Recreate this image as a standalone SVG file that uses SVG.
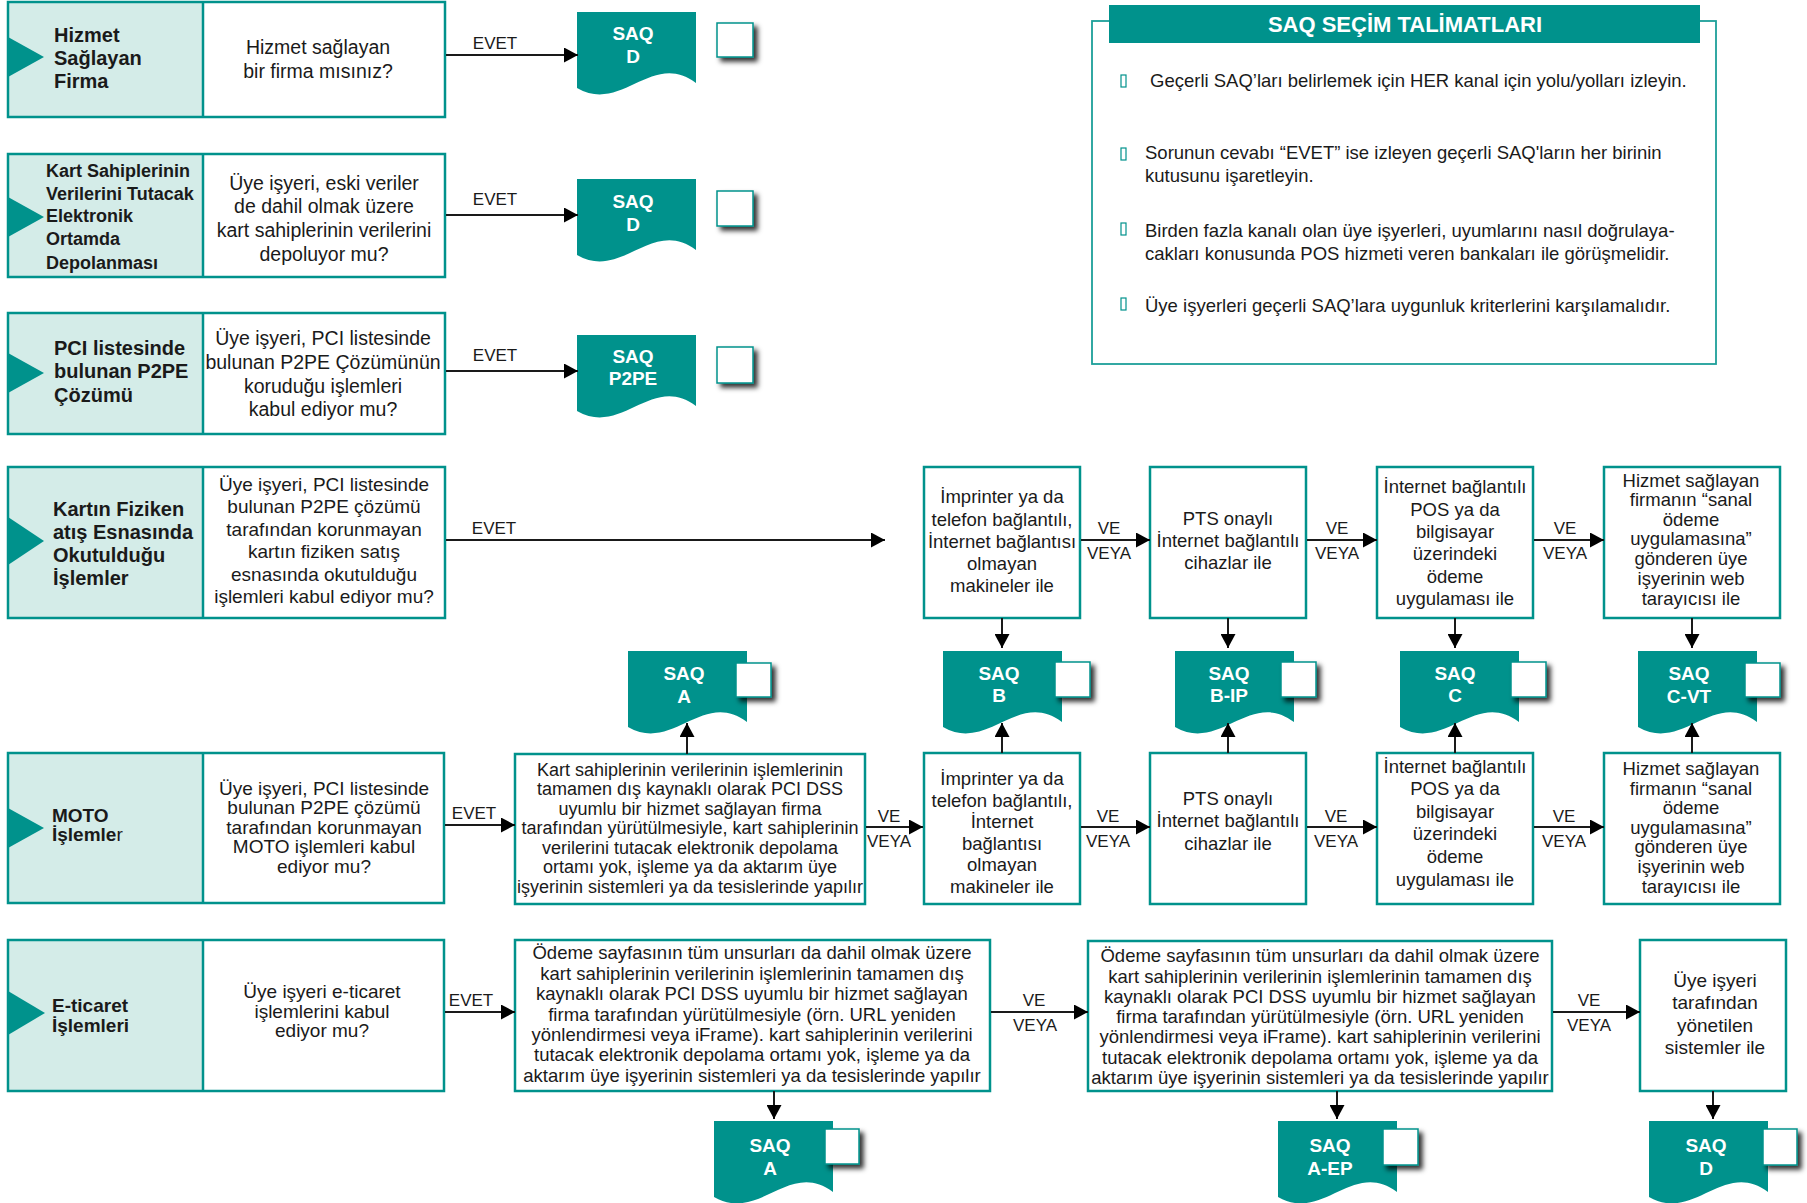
<svg xmlns="http://www.w3.org/2000/svg" width="1807" height="1203" viewBox="0 0 1807 1203">
<defs>
<style>
 text { font-family: "Liberation Sans", Arial, sans-serif; fill:#1a1a1a; }
 .lab { font-weight:bold; font-size:20px; }
 .q { font-size:19.5px; text-anchor:middle; }
 .q19 { font-size:19px; text-anchor:middle; }
 .b { font-size:18.5px; text-anchor:middle; }
 .k { font-size:18px; text-anchor:middle; }
 .lbl { font-size:17px; text-anchor:middle; }
 .saq { font-weight:bold; font-size:19px; fill:#ffffff; text-anchor:middle; }
 .left { fill:#d4ece8; }
 .frame { fill:none; stroke:#00928c; stroke-width:2.5; }
 .box { fill:#ffffff; stroke:#00928c; stroke-width:2.5; }
 .doc { fill:#00928c; }
 .chk { fill:#ffffff; stroke:#00928c; stroke-width:1.5; filter:url(#sh); }
 .tri { fill:#00928c; }
 .con line { stroke:#1a1a1a; stroke-width:2; marker-end:url(#ah); }
 .ins { font-size:18.5px; }
 .bul { fill:none; stroke:#00928c; stroke-width:1.2; }
</style>
<marker id="ah" markerUnits="userSpaceOnUse" markerWidth="14" markerHeight="15" refX="14" refY="7.5" orient="auto"><path d="M0,0 L14,7.5 L0,15 Z" fill="#000"/></marker>
<filter id="sh" x="-40%" y="-40%" width="180%" height="180%"><feDropShadow dx="4" dy="4" stdDeviation="2.5" flood-color="#000" flood-opacity="0.8"/></filter>
<path id="docp" d="M0,0 H119 V71 C75,38 45,102 0,76 Z"/>
</defs>

<!-- Row 1 -->
<g id="row1-hizmet">
 <rect class="left" x="8" y="2" width="195" height="115"/>
 <rect x="203" y="2" width="242" height="115" fill="#fff"/>
 <rect class="frame" x="8" y="2" width="437" height="115"/>
 <line x1="203" y1="2" x2="203" y2="117" stroke="#00928c" stroke-width="2.5"/>
 <polygon class="tri" points="8,37 44,57 8,77"/>
 <text class="lab" x="54" y="42">Hizmet</text>
 <text class="lab" x="54" y="65">Sağlayan</text>
 <text class="lab" x="54" y="88">Firma</text>
 <text class="q" x="318" y="54">Hizmet sağlayan</text>
 <text class="q" x="318" y="78">bir firma mısınız?</text>
</g>
<g id="saq-d-1">
 <use href="#docp" class="doc" x="577" y="12"/>
 <text class="saq" x="633" y="40">SAQ</text>
 <text class="saq" x="633" y="63">D</text>
 <rect class="chk" x="717" y="23" width="36" height="34"/>
</g>

<!-- Row 2 -->
<g id="row2-depolama">
 <rect class="left" x="8" y="154" width="195" height="123"/>
 <rect x="203" y="154" width="242" height="123" fill="#fff"/>
 <rect class="frame" x="8" y="154" width="437" height="123"/>
 <line x1="203" y1="154" x2="203" y2="277" stroke="#00928c" stroke-width="2.5"/>
 <polygon class="tri" points="8,197 44,217 8,237"/>
 <text class="lab" style="font-size:18px" x="46" y="177">Kart Sahiplerinin</text>
 <text class="lab" style="font-size:18px" x="46" y="200">Verilerini Tutacak</text>
 <text class="lab" style="font-size:18px" x="46" y="222">Elektronik</text>
 <text class="lab" style="font-size:18px" x="46" y="245">Ortamda</text>
 <text class="lab" style="font-size:18px" x="46" y="269">Depolanması</text>
 <text class="q" x="324" y="190">Üye işyeri, eski veriler</text>
 <text class="q" x="324" y="213">de dahil olmak üzere</text>
 <text class="q" x="324" y="237">kart sahiplerinin verilerini</text>
 <text class="q" x="324" y="261">depoluyor mu?</text>
</g>
<g id="saq-d-2">
 <use href="#docp" class="doc" x="577" y="179"/>
 <text class="saq" x="633" y="208">SAQ</text>
 <text class="saq" x="633" y="231">D</text>
 <rect class="chk" x="717" y="191" width="36" height="35"/>
</g>

<!-- Row 3 -->
<g id="row3-p2pe">
 <rect class="left" x="8" y="313" width="195" height="121"/>
 <rect x="203" y="313" width="242" height="121" fill="#fff"/>
 <rect class="frame" x="8" y="313" width="437" height="121"/>
 <line x1="203" y1="313" x2="203" y2="434" stroke="#00928c" stroke-width="2.5"/>
 <polygon class="tri" points="8,353 44,373 8,393"/>
 <text class="lab" x="54" y="355">PCI listesinde</text>
 <text class="lab" x="54" y="378">bulunan P2PE</text>
 <text class="lab" x="54" y="402">Çözümü</text>
 <text class="q" x="323" y="345">Üye işyeri, PCI listesinde</text>
 <text class="q" x="323" y="369">bulunan P2PE Çözümünün</text>
 <text class="q" x="323" y="393">koruduğu işlemleri</text>
 <text class="q" x="323" y="416">kabul ediyor mu?</text>
</g>
<g id="saq-p2pe">
 <use href="#docp" class="doc" x="577" y="335"/>
 <text class="saq" x="633" y="363">SAQ</text>
 <text class="saq" x="633" y="385">P2PE</text>
 <rect class="chk" x="717" y="347" width="36" height="36"/>
</g>

<!-- Instructions -->
<g id="talimatlar">
 <rect x="1092" y="21" width="624" height="343" fill="none" stroke="#1c9f99" stroke-width="1.8"/>
 <rect x="1109" y="5" width="591" height="38" fill="#00928c"/>
 <text x="1405" y="32" style="font-weight:bold;font-size:22px;fill:#fff;text-anchor:middle">SAQ SEÇİM TALİMATLARI</text>
 <rect class="bul" x="1121" y="75" width="5" height="12"/>
 <text class="ins" x="1150" y="87">Geçerli SAQ’ları belirlemek için HER kanal için yolu/yolları izleyin.</text>
 <rect class="bul" x="1121" y="148" width="5" height="12"/>
 <text class="ins" x="1145" y="159">Sorunun cevabı “EVET” ise izleyen geçerli SAQ'ların her birinin</text>
 <text class="ins" x="1145" y="182">kutusunu işaretleyin.</text>
 <rect class="bul" x="1121" y="223" width="5" height="12"/>
 <text class="ins" x="1145" y="237">Birden fazla kanalı olan üye işyerleri, uyumlarını nasıl doğrulaya-</text>
 <text class="ins" x="1145" y="260">cakları konusunda POS hizmeti veren bankaları ile görüşmelidir.</text>
 <rect class="bul" x="1121" y="298" width="5" height="12"/>
 <text class="ins" x="1145" y="312">Üye işyerleri geçerli SAQ’lara uygunluk kriterlerini karşılamalıdır.</text>
</g>

<!-- Row 4 -->
<g id="row4-fiziken">
 <rect class="left" x="8" y="467" width="195" height="151"/>
 <rect x="203" y="467" width="242" height="151" fill="#fff"/>
 <rect class="frame" x="8" y="467" width="437" height="151"/>
 <line x1="203" y1="467" x2="203" y2="618" stroke="#00928c" stroke-width="2.5"/>
 <polygon class="tri" points="8,517 44,541 8,565"/>
 <text class="lab" x="53" y="516">Kartın Fiziken</text>
 <text class="lab" x="53" y="539">atış Esnasında</text>
 <text class="lab" x="53" y="562">Okutulduğu</text>
 <text class="lab" x="53" y="585">İşlemler</text>
 <text class="q19" x="324" y="491">Üye işyeri, PCI listesinde</text>
 <text class="q19" x="324" y="513">bulunan P2PE çözümü</text>
 <text class="q19" x="324" y="536">tarafından korunmayan</text>
 <text class="q19" x="324" y="558">kartın fiziken satış</text>
 <text class="q19" x="324" y="581">esnasında okutulduğu</text>
 <text class="q19" x="324" y="603">işlemleri kabul ediyor mu?</text>
</g>
<g id="r4-b1">
 <rect class="box" x="924" y="467" width="156" height="151"/>
 <text class="b" x="1002" y="503">İmprinter ya da</text>
 <text class="b" x="1002" y="526">telefon bağlantılı,</text>
 <text class="b" x="1002" y="548">İnternet bağlantısı</text>
 <text class="b" x="1002" y="570">olmayan</text>
 <text class="b" x="1002" y="592">makineler ile</text>
</g>
<g id="r4-b2">
 <rect class="box" x="1150" y="467" width="156" height="151"/>
 <text class="b" x="1228" y="525">PTS onaylı</text>
 <text class="b" x="1228" y="547">İnternet bağlantılı</text>
 <text class="b" x="1228" y="569">cihazlar ile</text>
</g>
<g id="r4-b3">
 <rect class="box" x="1377" y="467" width="156" height="151"/>
 <text class="b" x="1455" y="493">İnternet bağlantılı</text>
 <text class="b" x="1455" y="516">POS ya da</text>
 <text class="b" x="1455" y="538">bilgisayar</text>
 <text class="b" x="1455" y="560">üzerindeki</text>
 <text class="b" x="1455" y="583">ödeme</text>
 <text class="b" x="1455" y="605">uygulaması ile</text>
</g>
<g id="r4-b4">
 <rect class="box" x="1604" y="467" width="176" height="151"/>
 <text class="b" x="1691" y="487">Hizmet sağlayan</text>
 <text class="b" x="1691" y="506">firmanın “sanal</text>
 <text class="b" x="1691" y="526">ödeme</text>
 <text class="b" x="1691" y="545">uygulamasına”</text>
 <text class="b" x="1691" y="565">gönderen üye</text>
 <text class="b" x="1691" y="585">işyerinin web</text>
 <text class="b" x="1691" y="605">tarayıcısı ile</text>
</g>

<g id="saq-b">
 <use href="#docp" class="doc" x="943" y="651"/>
 <text class="saq" x="999" y="680">SAQ</text>
 <text class="saq" x="999" y="702">B</text>
 <rect class="chk" x="1055" y="662" width="35" height="35"/>
</g>
<g id="saq-b-ip">
 <use href="#docp" class="doc" x="1175" y="651"/>
 <text class="saq" x="1229" y="680">SAQ</text>
 <text class="saq" x="1229" y="702">B-IP</text>
 <rect class="chk" x="1281" y="662" width="35" height="35"/>
</g>
<g id="saq-c">
 <use href="#docp" class="doc" x="1400" y="651"/>
 <text class="saq" x="1455" y="680">SAQ</text>
 <text class="saq" x="1455" y="702">C</text>
 <rect class="chk" x="1511" y="662" width="35" height="35"/>
</g>
<g id="saq-c-vt">
 <use href="#docp" class="doc" x="1638" y="651"/>
 <text class="saq" x="1689" y="680">SAQ</text>
 <text class="saq" x="1689" y="703">C-VT</text>
 <rect class="chk" x="1745" y="663" width="35" height="34"/>
</g>
<g id="saq-a-moto">
 <use href="#docp" class="doc" x="628" y="651"/>
 <text class="saq" x="684" y="680">SAQ</text>
 <text class="saq" x="684" y="703">A</text>
 <rect class="chk" x="736" y="663" width="35" height="34"/>
</g>

<!-- Row 5 MOTO -->
<g id="row5-moto">
 <rect class="left" x="8" y="753" width="195" height="150"/>
 <rect x="203" y="753" width="241" height="150" fill="#fff"/>
 <rect class="frame" x="8" y="753" width="436" height="150"/>
 <line x1="203" y1="753" x2="203" y2="903" stroke="#00928c" stroke-width="2.5"/>
 <polygon class="tri" points="8,808 44,828 8,848"/>
 <text class="lab" style="font-size:19px" x="52" y="822">MOTO</text>
 <text class="lab" style="font-size:19px" x="52" y="841">İşlemle<tspan style="font-weight:normal">r</tspan></text>
 <text class="q19" x="324" y="795">Üye işyeri, PCI listesinde</text>
 <text class="q19" x="324" y="814">bulunan P2PE çözümü</text>
 <text class="q19" x="324" y="834">tarafından korunmayan</text>
 <text class="q19" x="324" y="853">MOTO işlemleri kabul</text>
 <text class="q19" x="324" y="873">ediyor mu?</text>
</g>
<g id="r5-kart">
 <rect class="box" x="515" y="754" width="350" height="150"/>
 <text class="k" x="690" y="776">Kart sahiplerinin verilerinin işlemlerinin</text>
 <text class="k" x="690" y="795">tamamen dış kaynaklı olarak PCI DSS</text>
 <text class="k" x="690" y="815">uyumlu bir hizmet sağlayan firma</text>
 <text class="k" x="690" y="834">tarafından yürütülmesiyle, kart sahiplerinin</text>
 <text class="k" x="690" y="854">verilerini tutacak elektronik depolama</text>
 <text class="k" x="690" y="873">ortamı yok, işleme ya da aktarım üye</text>
 <text class="k" x="690" y="893">işyerinin sistemleri ya da tesislerinde yapılır</text>
</g>
<g id="r5-b1">
 <rect class="box" x="924" y="753" width="156" height="151"/>
 <text class="b" x="1002" y="785">İmprinter ya da</text>
 <text class="b" x="1002" y="807">telefon bağlantılı,</text>
 <text class="b" x="1002" y="828">İnternet</text>
 <text class="b" x="1002" y="850">bağlantısı</text>
 <text class="b" x="1002" y="871">olmayan</text>
 <text class="b" x="1002" y="893">makineler ile</text>
</g>
<g id="r5-b2">
 <rect class="box" x="1150" y="753" width="156" height="151"/>
 <text class="b" x="1228" y="805">PTS onaylı</text>
 <text class="b" x="1228" y="827">İnternet bağlantılı</text>
 <text class="b" x="1228" y="850">cihazlar ile</text>
</g>
<g id="r5-b3">
 <rect class="box" x="1377" y="753" width="156" height="151"/>
 <text class="b" x="1455" y="773">İnternet bağlantılı</text>
 <text class="b" x="1455" y="795">POS ya da</text>
 <text class="b" x="1455" y="818">bilgisayar</text>
 <text class="b" x="1455" y="840">üzerindeki</text>
 <text class="b" x="1455" y="863">ödeme</text>
 <text class="b" x="1455" y="886">uygulaması ile</text>
</g>
<g id="r5-b4">
 <rect class="box" x="1604" y="753" width="176" height="151"/>
 <text class="b" x="1691" y="775">Hizmet sağlayan</text>
 <text class="b" x="1691" y="795">firmanın “sanal</text>
 <text class="b" x="1691" y="814">ödeme</text>
 <text class="b" x="1691" y="834">uygulamasına”</text>
 <text class="b" x="1691" y="853">gönderen üye</text>
 <text class="b" x="1691" y="873">işyerinin web</text>
 <text class="b" x="1691" y="893">tarayıcısı ile</text>
</g>

<!-- Row 6 E-ticaret -->
<g id="row6-eticaret">
 <rect class="left" x="8" y="940" width="195" height="151"/>
 <rect x="203" y="940" width="241" height="151" fill="#fff"/>
 <rect class="frame" x="8" y="940" width="436" height="151"/>
 <line x1="203" y1="940" x2="203" y2="1091" stroke="#00928c" stroke-width="2.5"/>
 <polygon class="tri" points="8,991 45,1013 8,1035"/>
 <text class="lab" style="font-size:19px" x="52" y="1012">E-ticaret</text>
 <text class="lab" style="font-size:19px" x="52" y="1032">İşlemleri</text>
 <text class="q19" x="322" y="998">Üye işyeri e-ticaret</text>
 <text class="q19" x="322" y="1018">işlemlerini kabul</text>
 <text class="q19" x="322" y="1037">ediyor mu?</text>
</g>
<g id="r6-odeme1">
 <rect class="box" x="515" y="940" width="475" height="151"/>
 <text class="b" x="752" y="959">Ödeme sayfasının tüm unsurları da dahil olmak üzere</text>
 <text class="b" x="752" y="980">kart sahiplerinin verilerinin işlemlerinin tamamen dış</text>
 <text class="b" x="752" y="1000">kaynaklı olarak PCI DSS uyumlu bir hizmet sağlayan</text>
 <text class="b" x="752" y="1021">firma tarafından yürütülmesiyle (örn. URL yeniden</text>
 <text class="b" x="752" y="1041">yönlendirmesi veya iFrame). kart sahiplerinin verilerini</text>
 <text class="b" x="752" y="1061">tutacak elektronik depolama ortamı yok, işleme ya da</text>
 <text class="b" x="752" y="1082">aktarım üye işyerinin sistemleri ya da tesislerinde yapılır</text>
</g>
<g id="r6-odeme2">
 <rect class="box" x="1088" y="941" width="464" height="150"/>
 <text class="b" x="1320" y="962">Ödeme sayfasının tüm unsurları da dahil olmak üzere</text>
 <text class="b" x="1320" y="983">kart sahiplerinin verilerinin işlemlerinin tamamen dış</text>
 <text class="b" x="1320" y="1003">kaynaklı olarak PCI DSS uyumlu bir hizmet sağlayan</text>
 <text class="b" x="1320" y="1023">firma tarafından yürütülmesiyle (örn. URL yeniden</text>
 <text class="b" x="1320" y="1043">yönlendirmesi veya iFrame). kart sahiplerinin verilerini</text>
 <text class="b" x="1320" y="1064">tutacak elektronik depolama ortamı yok, işleme ya da</text>
 <text class="b" x="1320" y="1084">aktarım üye işyerinin sistemleri ya da tesislerinde yapılır</text>
</g>
<g id="r6-sistemler">
 <rect class="box" x="1640" y="940" width="146" height="151"/>
 <text class="q19" x="1715" y="987">Üye işyeri</text>
 <text class="q19" x="1715" y="1009">tarafından</text>
 <text class="q19" x="1715" y="1032">yönetilen</text>
 <text class="q19" x="1715" y="1054">sistemler ile</text>
</g>
<g id="saq-a-eticaret">
 <use href="#docp" class="doc" x="714" y="1121"/>
 <text class="saq" x="770" y="1152">SAQ</text>
 <text class="saq" x="770" y="1175">A</text>
 <rect class="chk" x="825" y="1129" width="34" height="35"/>
</g>
<g id="saq-a-ep">
 <use href="#docp" class="doc" x="1278" y="1121"/>
 <text class="saq" x="1330" y="1152">SAQ</text>
 <text class="saq" x="1330" y="1175">A-EP</text>
 <rect class="chk" x="1383" y="1129" width="35" height="36"/>
</g>
<g id="saq-d-3">
 <use href="#docp" class="doc" x="1649" y="1121"/>
 <text class="saq" x="1706" y="1152">SAQ</text>
 <text class="saq" x="1706" y="1175">D</text>
 <rect class="chk" x="1763" y="1129" width="34" height="36"/>
</g>

<!-- Connectors -->
<g id="connectors" class="con">
 <line x1="446" y1="55" x2="578" y2="55"/>
 <line x1="446" y1="215" x2="578" y2="215"/>
 <line x1="446" y1="371" x2="578" y2="371"/>
 <line x1="446" y1="540" x2="885" y2="540"/>
 <line x1="1081" y1="540" x2="1150" y2="540"/>
 <line x1="1307" y1="540" x2="1377" y2="540"/>
 <line x1="1534" y1="540" x2="1604" y2="540"/>
 <line x1="1002" y1="618" x2="1002" y2="648"/>
 <line x1="1228" y1="618" x2="1228" y2="648"/>
 <line x1="1455" y1="618" x2="1455" y2="648"/>
 <line x1="1692" y1="618" x2="1692" y2="648"/>
 <line x1="445" y1="825" x2="515" y2="825"/>
 <line x1="866" y1="827" x2="923" y2="827"/>
 <line x1="1081" y1="827" x2="1150" y2="827"/>
 <line x1="1307" y1="827" x2="1377" y2="827"/>
 <line x1="1534" y1="827" x2="1604" y2="827"/>
 <line x1="687" y1="754" x2="687" y2="723"/>
 <line x1="1002" y1="753" x2="1002" y2="723"/>
 <line x1="1228" y1="753" x2="1228" y2="723"/>
 <line x1="1455" y1="753" x2="1455" y2="723"/>
 <line x1="1692" y1="753" x2="1692" y2="723"/>
 <line x1="445" y1="1012" x2="515" y2="1012"/>
 <line x1="991" y1="1012" x2="1088" y2="1012"/>
 <line x1="1553" y1="1012" x2="1640" y2="1012"/>
 <line x1="774" y1="1091" x2="774" y2="1119"/>
 <line x1="1337" y1="1091" x2="1337" y2="1119"/>
 <line x1="1713" y1="1091" x2="1713" y2="1119"/>
 <text class="lbl" x="495" y="49">EVET</text>
 <text class="lbl" x="495" y="205">EVET</text>
 <text class="lbl" x="495" y="361">EVET</text>
 <text class="lbl" x="494" y="534">EVET</text>
 <text class="lbl" x="1109" y="534">VE</text>
 <text class="lbl" x="1109" y="559">VEYA</text>
 <text class="lbl" x="1337" y="534">VE</text>
 <text class="lbl" x="1337" y="559">VEYA</text>
 <text class="lbl" x="1565" y="534">VE</text>
 <text class="lbl" x="1565" y="559">VEYA</text>
 <text class="lbl" x="474" y="819">EVET</text>
 <text class="lbl" x="889" y="822">VE</text>
 <text class="lbl" x="889" y="847">VEYA</text>
 <text class="lbl" x="1108" y="822">VE</text>
 <text class="lbl" x="1108" y="847">VEYA</text>
 <text class="lbl" x="1336" y="822">VE</text>
 <text class="lbl" x="1336" y="847">VEYA</text>
 <text class="lbl" x="1564" y="822">VE</text>
 <text class="lbl" x="1564" y="847">VEYA</text>
 <text class="lbl" x="471" y="1006">EVET</text>
 <text class="lbl" x="1034" y="1006">VE</text>
 <text class="lbl" x="1035" y="1031">VEYA</text>
 <text class="lbl" x="1589" y="1006">VE</text>
 <text class="lbl" x="1589" y="1031">VEYA</text>
</g>
</svg>
